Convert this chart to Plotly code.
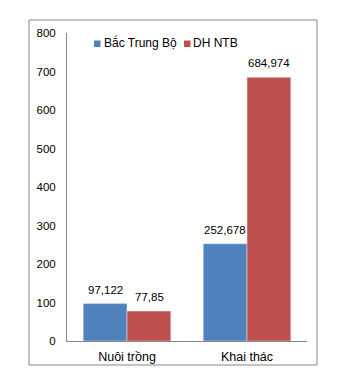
import plotly.graph_objects as go

categories = ["Nuôi trồng", "Khai thác"]
bac_trung_bo = [97.122, 252.678]
dh_ntb = [77.85, 684.974]
series = [("Bắc Trung Bộ", bac_trung_bo, "#4F81BD"),
          ("DH NTB", dh_ntb, "#C0504D")]


def vn(v):
    return str(v).replace(".", ",")


W, H = 345, 377
L, R, T, B = 67, 38, 33, 36
pw, ph = W - L - R, H - T - B
FONT = "Liberation Sans, Arial"

fig = go.Figure()
annotations = []
for i, (name, vals, color) in enumerate(series):
    fig.add_trace(go.Bar(name=name, x=categories, y=vals, marker_color=color,
                         showlegend=False))
    # value labels above each bar, offset by half a bar width within the group
    for cat, v in zip(categories, vals):
        annotations.append(dict(
            x=cat, y=v, xref="x", yref="y", text=vn(v), showarrow=False,
            xshift=(-22 if i == 0 else 22), yshift=6, yanchor="bottom",
            font=dict(family=FONT, size=11.5, color="#000000"),
        ))


def px_x(x):
    return (x - L) / pw


def px_y(y):
    return (H - B - y) / ph


# legend: small colour squares followed by series names
legend_items = [(94, 103), (184, 192)]
shapes = []
for (sx, tx), (name, _, color) in zip(legend_items, series):
    shapes.append(dict(type="rect", xref="paper", yref="paper",
                       x0=px_x(sx), x1=px_x(sx + 6.5), y0=px_y(47), y1=px_y(40.5),
                       fillcolor=color, line=dict(width=0)))
    annotations.append(dict(x=px_x(tx), y=px_y(43), xref="paper", yref="paper",
                            text=name, showarrow=False, xanchor="left", yanchor="middle",
                            borderpad=0,
                            font=dict(family=FONT, size=12, color="#000000")))

# chart border
shapes.append(dict(type="rect", xref="paper", yref="paper",
                   x0=px_x(29), x1=px_x(317), y0=px_y(365), y1=px_y(20),
                   line=dict(color="#868686", width=1), fillcolor="rgba(0,0,0,0)"))

fig.update_layout(
    width=W, height=H,
    margin=dict(l=L, r=R, t=T, b=B),
    barmode="group", bargap=0.27, bargroupgap=0,
    plot_bgcolor="white", paper_bgcolor="white",
    font=dict(family=FONT, size=12, color="#000000"),
    showlegend=False,
    annotations=annotations,
    shapes=shapes,
)
fig.update_yaxes(range=[0, 800], dtick=100, showgrid=False, zeroline=False,
                 showline=True, linecolor="#868686", linewidth=1,
                 ticks="", ticklabelstandoff=8, tickfont=dict(size=11.5))
fig.update_xaxes(showgrid=False, showline=True, linecolor="#868686", linewidth=1,
                 ticks="", ticklabelstandoff=4, tickfont=dict(size=12.5))

fig.write_html("out.html")
